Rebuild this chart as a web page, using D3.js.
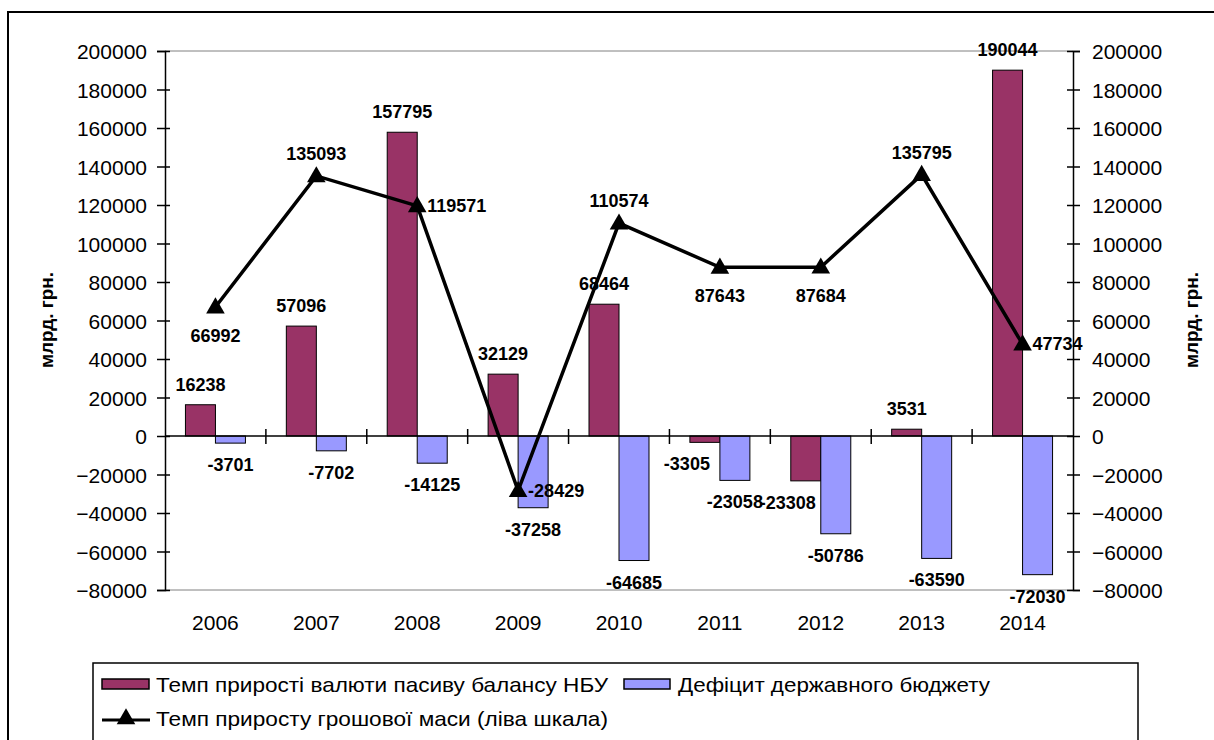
<!DOCTYPE html>
<html>
<head>
<meta charset="utf-8">
<script src="https://cdnjs.cloudflare.com/ajax/libs/d3/7.8.5/d3.min.js"></script>
<style>
  body { margin: 0; background: #fff; }
  text { font-family: "Liberation Sans", Arial, sans-serif; }
</style>
</head>
<body>
<div id="viz"></div>
<script>
var years = ["2006", "2007", "2008", "2009", "2010", "2011", "2012", "2013", "2014"];
var nbuGrowth = [16238, 57096, 157795, 32129, 68464, -3305, -23308, 3531, 190044];
var budgetDeficit = [-3701, -7702, -14125, -37258, -64685, -23058, -50786, -63590, -72030];
var moneyGrowth = [66992, 135093, 119571, -28429, 110574, 87643, 87684, 135795, 47734];
// where each line label sits relative to its marker
var moneyLabelPos = ["below", "above", "right", "right", "above", "below", "below", "above", "right"];
var yTicks = [-80000, -60000, -40000, -20000, 0, 20000, 40000, 60000, 80000, 100000, 120000, 140000, 160000, 180000, 200000];

var seriesNames = ["Темп прирості валюти пасиву балансу НБУ", "Дефіцит державного бюджету",
                   "Темп приросту грошової маси (ліва шкала)"];
var colors = ["#993366", "#9999FF"];

var width = 1214,
    height = 740;

// plot edges (note: "top" is reserved by window, so use other names)
var plotL = 165, plotR = 1073, plotT = 51, plotB = 590;

var svg = d3.select("#viz").append("svg")
    .attr("width", width)
    .attr("height", height);

// outer frame
svg.append("rect")
    .attr("x", 8).attr("y", 12)
    .attr("width", 1230).attr("height", 760)
    .attr("fill", "none").attr("stroke", "#000").attr("stroke-width", 2);

var x = d3.scaleBand().domain(years).range([plotL, plotR]);
var y = d3.scaleLinear().domain([-80000, 200000]).range([plotB, plotT]);
var barW = 30;

// plot area top / bottom border
svg.append("line").attr("x1", plotL).attr("x2", plotR).attr("y1", plotT).attr("y2", plotT)
    .attr("stroke", "#808080");
svg.append("line").attr("x1", plotL).attr("x2", plotR).attr("y1", plotB).attr("y2", plotB)
    .attr("stroke", "#808080");

// bars
function cx(d, i) { return x(years[i]) + x.bandwidth() / 2; }

svg.selectAll("rect.nbu")
    .data(nbuGrowth)
  .enter().append("rect")
    .attr("class", "nbu")
    .attr("x", function(d, i) { return cx(d, i) - barW; })
    .attr("y", function(d) { return y(Math.max(0, d)); })
    .attr("width", barW)
    .attr("height", function(d) { return Math.abs(y(d) - y(0)); })
    .attr("fill", colors[0]).attr("stroke", "#000").attr("stroke-width", 1);

svg.selectAll("rect.def")
    .data(budgetDeficit)
  .enter().append("rect")
    .attr("class", "def")
    .attr("x", function(d, i) { return cx(d, i); })
    .attr("y", function(d) { return y(Math.max(0, d)); })
    .attr("width", barW)
    .attr("height", function(d) { return Math.abs(y(d) - y(0)); })
    .attr("fill", colors[1]).attr("stroke", "#000").attr("stroke-width", 1);

// left and right axes
var yAxisL = d3.axisLeft(y).tickValues(yTicks).tickSize(8).tickPadding(10).tickFormat(d3.format("d"));
var gL = svg.append("g").attr("transform", "translate(" + plotL + ",0)").call(yAxisL);
var yAxisR = d3.axisRight(y).tickValues(yTicks).tickSize(7).tickPadding(12).tickFormat(d3.format("d"));
var gR = svg.append("g").attr("transform", "translate(" + plotR + ",0)").call(yAxisR);
[gL, gR].forEach(function(g) {
  g.select(".domain").attr("stroke", "#000").attr("stroke-width", 1.5);
  g.selectAll(".tick line").attr("stroke", "#000").attr("stroke-width", 1.5);
  g.selectAll(".tick text").attr("font-size", 21).attr("fill", "#000")
    .attr("font-family", "Liberation Sans, Arial, sans-serif").attr("dy", "0.36em");
});
gL.selectAll(".tick line").attr("x1", 5);
gR.selectAll(".tick line").attr("x1", -6);

// zero axis with category separators
svg.append("line").attr("x1", plotL).attr("x2", plotR).attr("y1", y(0)).attr("y2", y(0))
    .attr("stroke", "#000").attr("stroke-width", 1.5);
svg.selectAll("line.sep")
    .data(years.slice(1))
  .enter().append("line")
    .attr("class", "sep")
    .attr("x1", function(d) { return x(d); }).attr("x2", function(d) { return x(d); })
    .attr("y1", y(0) - 7).attr("y2", y(0) + 8)
    .attr("stroke", "#000").attr("stroke-width", 1.5);

// category labels
svg.selectAll("text.year")
    .data(years)
  .enter().append("text")
    .attr("class", "year")
    .attr("x", function(d) { return x(d) + x.bandwidth() / 2; })
    .attr("y", 630)
    .attr("text-anchor", "middle")
    .attr("font-size", 21)
    .text(function(d) { return d; });

// axis titles
svg.append("text")
    .attr("transform", "translate(53,320) rotate(-90)")
    .attr("text-anchor", "middle").attr("font-size", 19).attr("font-weight", "bold")
    .text("млрд. грн.");
svg.append("text")
    .attr("transform", "translate(1198,320) rotate(-90)")
    .attr("text-anchor", "middle").attr("font-size", 19).attr("font-weight", "bold")
    .text("млрд. грн.");

// line series
var line = d3.line()
    .x(function(d, i) { return cx(d, i); })
    .y(function(d) { return y(d); });

svg.append("path")
    .datum(moneyGrowth)
    .attr("d", line)
    .attr("fill", "none").attr("stroke", "#000").attr("stroke-width", 3.5)
    .attr("stroke-linejoin", "miter");

var tri = d3.symbol().type(d3.symbolTriangle).size(150);
svg.selectAll("path.marker")
    .data(moneyGrowth)
  .enter().append("path")
    .attr("class", "marker")
    .attr("d", tri)
    .attr("transform", function(d, i) { return "translate(" + cx(d, i) + "," + (y(d) + 1) + ")"; })
    .attr("fill", "#000");

// data labels
function barLabel(sel, data, offset, shiftNeg) {
  sel.data(data).enter().append("text")
    .attr("x", function(d, i) { return cx(d, i) + offset + (d < 0 ? shiftNeg : 0); })
    .attr("y", function(d) { return d >= 0 ? y(d) - 14 : y(d) + 28; })
    .attr("text-anchor", "middle")
    .attr("font-size", 18).attr("font-weight", "bold")
    .text(function(d) { return d; });
}
barLabel(svg.selectAll("text.nl"), nbuGrowth, -15, -18);
barLabel(svg.selectAll("text.dl"), budgetDeficit, 15, 0);

svg.selectAll("text.ml")
    .data(moneyGrowth)
  .enter().append("text")
    .attr("class", "ml")
    .attr("x", function(d, i) { return moneyLabelPos[i] == "right" ? cx(d, i) + 10 : cx(d, i); })
    .attr("y", function(d, i) {
      var p = moneyLabelPos[i];
      return p == "above" ? y(d) - 16 : p == "below" ? y(d) + 35 : y(d) + 6;
    })
    .attr("text-anchor", function(d, i) { return moneyLabelPos[i] == "right" ? "start" : "middle"; })
    .attr("font-size", 18).attr("font-weight", "bold")
    .text(function(d) { return d; });

// legend
var lg = svg.append("g");
lg.append("rect")
    .attr("x", 93).attr("y", 663).attr("width", 1045).attr("height", 100)
    .attr("fill", "#fff").attr("stroke", "#000").attr("stroke-width", 1.5);

lg.append("rect").attr("x", 102).attr("y", 679).attr("width", 47).attr("height", 10)
    .attr("fill", colors[0]).attr("stroke", "#000").attr("stroke-width", 1.5);
lg.append("text").attr("x", 156).attr("y", 692).attr("font-size", 21)
    .attr("textLength", 452).attr("lengthAdjust", "spacingAndGlyphs")
    .text(seriesNames[0]);

lg.append("rect").attr("x", 624).attr("y", 679).attr("width", 46).attr("height", 10)
    .attr("fill", colors[1]).attr("stroke", "#000").attr("stroke-width", 1.5);
lg.append("text").attr("x", 678).attr("y", 692).attr("font-size", 21)
    .attr("textLength", 312).attr("lengthAdjust", "spacingAndGlyphs")
    .text(seriesNames[1]);

lg.append("line").attr("x1", 102).attr("x2", 150).attr("y1", 720).attr("y2", 720)
    .attr("stroke", "#000").attr("stroke-width", 3);
lg.append("path").attr("d", tri).attr("transform", "translate(126,719)").attr("fill", "#000");
lg.append("text").attr("x", 156).attr("y", 726).attr("font-size", 21)
    .attr("textLength", 452).attr("lengthAdjust", "spacingAndGlyphs")
    .text(seriesNames[2]);
</script>
</body>
</html>
